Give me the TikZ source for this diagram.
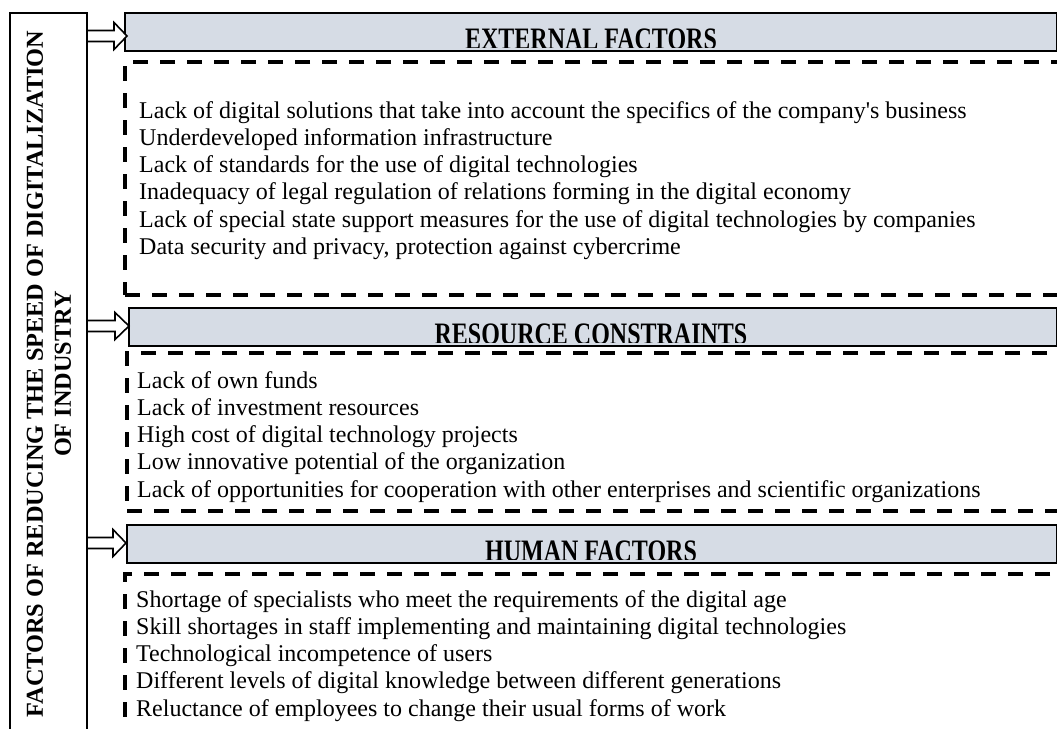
\documentclass[tikz,border=0pt]{standalone}
\usepackage{fontspec}
\setmainfont{Liberation Serif}[BoldFont={Liberation Serif Bold},Ligatures=TeXOff]
\usetikzlibrary{calc}
\definecolor{hdrfill}{HTML}{D6DCE5}
\begin{document}
\begin{tikzpicture}[x=1pt,y=-1pt,
  outerbox/.style={draw, line width=2.5pt, minimum width=77pt, minimum height=760pt, anchor=north west, inner sep=0pt, outer sep=0pt},
  hdrbox/.style={draw, line width=2.5pt, fill=hdrfill, anchor=north west, minimum height=38pt, inner sep=0pt, outer sep=0pt},
  dbox/.style={draw, dash pattern=on 15pt off 12pt, line width=3.5pt, anchor=north west, minimum width=975pt, inner sep=0pt, outer sep=0pt},
  blockarrow/.style={draw, line width=1.6pt, fill=white, line join=miter},
  htext/.style={font=\bfseries\fontsize{24}{28}\selectfont, anchor=base, inner sep=0pt},
  item/.style={font=\fontsize{24}{27}\selectfont, anchor=base west, inner sep=0pt},
  ttl/.style={font=\bfseries\fontsize{24.3}{28}\selectfont, rotate=90, align=center, inner sep=0pt}
]
\useasboundingbox (0,0) rectangle (1057,728);

% left box with vertical title
\node[outerbox] (lbox) at (10,13) {};
\node[ttl] (title) at (49,374) {FACTORS OF REDUCING THE SPEED OF DIGITALIZATION\\OF INDUSTRY};

% headers
\node[hdrbox, minimum width=932pt] (h1) at (125,13) {};
\node[hdrbox, minimum width=928pt] (h2) at (129,308) {};
\node[hdrbox, minimum width=930pt] (h3) at (127,525) {};

\begin{scope}
\clip ([shift={(3,3)}]h1.north west) rectangle ([shift={(-3,-4)}]h1.south east);
\node[htext] (t1) at ($(h1.north)+(0,36)$) {\scalebox{1}[1.3]{EXTERNAL FACTORS}};
\end{scope}
\begin{scope}
\clip ([shift={(3,3)}]h2.north west) rectangle ([shift={(-3,-4)}]h2.south east);
\node[htext] (t2) at ($(h2.north)+(-2,36)$) {\scalebox{1}[1.3]{RESOURCE CONSTRAINTS}};
\end{scope}
\begin{scope}
\clip ([shift={(3,3)}]h3.north west) rectangle ([shift={(-3,-4)}]h3.south east);
\node[htext] (t3) at ($(h3.north)+(-1,36)$) {\scalebox{1}[1.3]{HUMAN FACTORS}};
\end{scope}

% hollow block arrows from left box to headers
\coordinate (a1) at (lbox.east |- 0,36);
\coordinate (a2) at (lbox.east |- 0,326);
\coordinate (a3) at (lbox.east |- 0,543);
\draw[blockarrow] (a1) ++(0,-5.5) -- ++(27,0) -- ++(0,-8) -- ++(13,13.5) -- ++(-13,13.5) -- ++(0,-8) -- ++(-27,0) -- cycle;
\draw[blockarrow] (a2) ++(0,-5.5) -- ++(28,0) -- ++(0,-8) -- ++(14,13.5) -- ++(-14,13.5) -- ++(0,-8) -- ++(-28,0) -- cycle;
\draw[blockarrow] (a3) ++(0,-5.5) -- ++(26,0) -- ++(0,-8) -- ++(13,13.5) -- ++(-13,13.5) -- ++(0,-8) -- ++(-26,0) -- cycle;

% dashed lists
\node[dbox, minimum height=233pt] (d1) at (125,62) {};
\node[dbox, minimum height=158pt] (d2) at (127,353) {};
\node[dbox, minimum height=190pt] (d3) at (125,574) {};

\foreach \t [count=\i] in {%
  {Lack of digital solutions that take into account the specifics of the company's business},
  {Underdeveloped information infrastructure},
  {Lack of standards for the use of digital technologies},
  {Inadequacy of legal regulation of relations forming in the digital economy},
  {Lack of special state support measures for the use of digital technologies by companies},
  {Data security and privacy, protection against cybercrime}}
  \node[item] (e\i) at (139,{118+27.3*(\i-1)}) {\t};

\foreach \t [count=\i] in {%
  {Lack of own funds},
  {Lack of investment resources},
  {High cost of digital technology projects},
  {Low innovative potential of the organization},
  {Lack of opportunities for cooperation with other enterprises and scientific organizations}}
  \node[item] (r\i) at (137,{388+27.3*(\i-1)}) {\t};

\foreach \t [count=\i] in {%
  {Shortage of specialists who meet the requirements of the digital age},
  {Skill shortages in staff implementing and maintaining digital technologies},
  {Technological incompetence of users},
  {Different levels of digital knowledge between different generations},
  {Reluctance of employees to change their usual forms of work}}
  \node[item] (u\i) at (136,{607+27.3*(\i-1)}) {\t};
\end{tikzpicture}
\end{document}
